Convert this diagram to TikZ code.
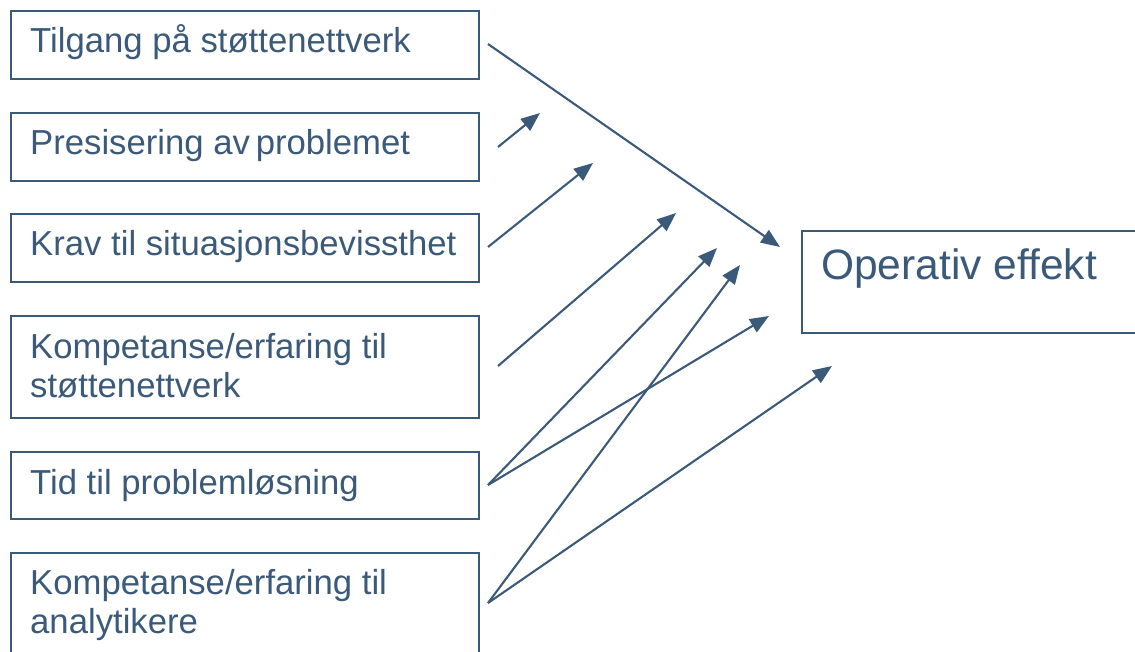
\documentclass[tikz,border=0pt]{standalone}
\usepackage{fontspec}
\setmainfont{Liberation Sans}
\usetikzlibrary{arrows.meta}
\definecolor{ink}{RGB}{59,90,122}
\begin{document}
\begin{tikzpicture}[x=1pt,y=-1pt,
  box/.style={draw=ink, line width=2pt, inner sep=0pt, anchor=north west},
  lbl/.style={text=ink, anchor=base west, inner sep=0pt, font=\fontsize{34.7}{39}\selectfont, align=left},
  big/.style={text=ink, anchor=base west, inner sep=0pt, font=\fontsize{42.5}{50}\selectfont},
  conn/.style={draw=ink, line width=2.1pt, -{Triangle[length=19pt,width=15pt]}}]
\useasboundingbox (0,0) rectangle (1135,652);
% boxes
\node[box, minimum width=468pt, minimum height=68pt] (b1) at (10,10) {};
\node[box, minimum width=468pt, minimum height=68pt] (b2) at (10,112) {};
\node[box, minimum width=468pt, minimum height=68pt] (b3) at (10,213) {};
\node[box, minimum width=468pt, minimum height=102pt] (b4) at (10,315) {};
\node[box, minimum width=468pt, minimum height=67pt] (b5) at (10,451) {};
\node[box, minimum width=468pt, minimum height=110pt] (b6) at (10,552) {};
\node[box, minimum width=345pt, minimum height=102pt] (op) at (801,230) {};
% labels (base anchor = baseline of last line)
\node[lbl] (t1) at (30,53) {Tilgang på støttenettverk};
\node[lbl] (t2) at (30,155) {Presisering av\,problemet};
\node[lbl] (t3) at (30,256) {Krav til situasjonsbevissthet};
\node[lbl] (t4) at (30,397) {Kompetanse/erfaring til\\støttenettverk};
\node[lbl] (t5) at (30,494) {Tid til problemløsning};
\node[lbl] (t6) at (30,633) {Kompetanse/erfaring til\\analytikere};
\node[big] (to) at (821,280) {Operativ effekt};
% connector end points
\coordinate (s1) at (488,44);
\coordinate (s2) at (498,147);
\coordinate (s3) at (488,247);
\coordinate (s4) at (498,366);
\coordinate (s5) at (488,485);
\coordinate (s6) at (488,603);
\coordinate (e1) at (780,247);
\coordinate (e2) at (540,113);
\coordinate (e3) at (593,163);
\coordinate (e4) at (676,213);
\coordinate (e5) at (717,248);
\coordinate (e6) at (769,316);
\coordinate (e7) at (740,265);
\coordinate (e8) at (832,366);
\draw[conn] (s1) -- (e1);
\draw[conn] (s2) -- (e2);
\draw[conn] (s3) -- (e3);
\draw[conn] (s4) -- (e4);
\draw[conn] (s5) -- (e5);
\draw[conn] (s5) -- (e6);
\draw[conn] (s6) -- (e7);
\draw[conn] (s6) -- (e8);
\end{tikzpicture}
\end{document}
